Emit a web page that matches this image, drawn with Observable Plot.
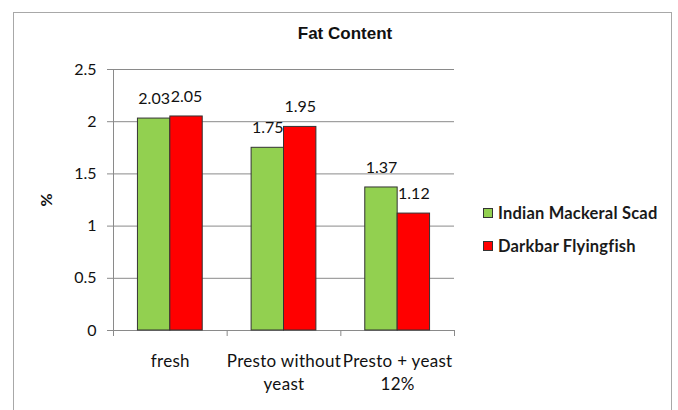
<!DOCTYPE html>
<html>
<head>
<meta charset="utf-8">
<script src="https://cdn.jsdelivr.net/npm/d3@7"></script>
<script src="https://cdn.jsdelivr.net/npm/@observablehq/plot@0.6"></script>
<style>
  html, body { margin: 0; padding: 0; background: #fff; }
  #wrap { position: relative; width: 678px; height: 410px; overflow: hidden; font-family: Lato, "Open Sans", sans-serif; }
  #frame { position: absolute; left: 13px; top: 12px; width: 659px; height: 420px; border: 1.5px solid #a8a8a8; box-sizing: border-box; }
  #title { position: absolute; left: 0; width: 690px; top: 24px; text-align: center; font-family: "Liberation Sans", Arial, sans-serif; font-weight: bold; font-size: 17px; color: #111; }
  #chart { position: absolute; left: 0; top: 0; }
  #legend { position: absolute; left: 483px; top: 202px; width: 185px; white-space: nowrap; font-size: 16.5px; font-weight: bold; letter-spacing: 0.2px; color: #1a1a1a; }
  .item { display: flex; align-items: center; height: 22px; margin-bottom: 11px; }
  .sw { width: 8px; height: 8px; border: 1px solid #333; margin-right: 5px; flex: none; }
</style>
</head>
<body>
<div id="wrap">
  <div id="frame"></div>
  <div id="title">Fat Content</div>
  <div id="chart"></div>
  <div id="legend"></div>
</div>
<script>
const categories = ["fresh", "Presto without\nyeast", "Presto + yeast\n12%"];
const series = ["Indian Mackeral Scad", "Darkbar Flyingfish"];
const colors = ["#92D050", "#FF0000"];
const mackerel = [2.03, 1.75, 1.37];
const flyingfish = [2.05, 1.95, 1.12];
const yTicks = [0, 0.5, 1, 1.5, 2, 2.5];

const values = [mackerel, flyingfish];
const rows = [];
categories.forEach((c, i) => {
  series.forEach((s, j) => rows.push({cat: c, i, s, j, v: values[j][i]}));
});
// bar slot within category band (band-relative layout)
const slotStart = j => 0.215 + j * 0.285;
const slotWidth = 0.285;

const chart = Plot.plot({
  width: 678,
  height: 410,
  marginLeft: 113,
  marginRight: 224,
  marginTop: 69,
  marginBottom: 80,
  style: {background: "transparent", fontFamily: "Lato, 'Open Sans', sans-serif", fontSize: "15px", color: "#111"},
  x: {type: "linear", domain: [0, categories.length], axis: null},
  y: {domain: [0, 2.5], axis: null},
  marks: [
    Plot.gridY(yTicks, {stroke: "#8a8a8a", strokeOpacity: 1, strokeWidth: 1}),
    Plot.axisY({ticks: yTicks, tickSize: 6, tickPadding: 11, tickFormat: d => String(d), label: null, stroke: "#8a8a8a", fontSize: 16}),
    Plot.axisX({ticks: d3.range(categories.length + 1), tickSize: 6, tickFormat: () => "", label: null, stroke: "#8a8a8a"}),
    Plot.ruleX([0], {stroke: "#8a8a8a"}),
    Plot.ruleY([0], {stroke: "#8a8a8a"}),
    Plot.rectY(rows, {
      x1: d => d.i + slotStart(d.j),
      x2: d => d.i + slotStart(d.j) + slotWidth,
      y: "v",
      fill: d => colors[d.j],
      stroke: "#333",
      strokeWidth: 1
    }),
    Plot.text(rows, {
      x: d => d.i + slotStart(d.j) + slotWidth / 2,
      y: "v",
      text: d => String(d.v),
      dy: -20,
      fontSize: 16,
      fill: "#111"
    }),
    Plot.text(categories, {
      x: (d, i) => i + 0.5,
      frameAnchor: "bottom",
      lineAnchor: "top",
      dy: 20,
      lineHeight: 1.35,
      text: d => d,
      fontSize: 17,
      fill: "#111"
    })
  ]
});
document.getElementById("chart").appendChild(chart);
d3.select(chart).selectAll("g[aria-label=text]").filter((d, i) => i === 1).attr("letter-spacing", "0.3px");

// y label
const svg = d3.select(chart);
svg.append("text")
  .attr("transform", "translate(48,200) rotate(-90)")
  .attr("text-anchor", "middle")
  .attr("dominant-baseline", "middle")
  .attr("font-family", "Lato, 'Open Sans', sans-serif")
  .attr("font-size", 16)
  .attr("font-weight", "bold")
  .attr("fill", "#111")
  .text("%");

const legend = d3.select("#legend");
series.forEach((s, j) => {
  const it = legend.append("div").attr("class", "item");
  it.append("div").attr("class", "sw").style("background", colors[j]);
  it.append("span").text(s);
});
</script>
</body>
</html>
